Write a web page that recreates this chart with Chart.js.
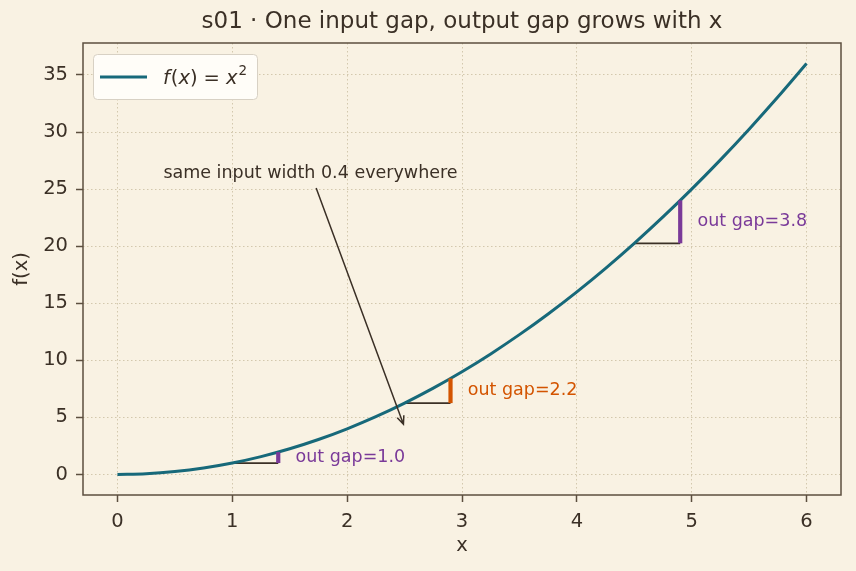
<!DOCTYPE html>
<html>
<head>
<meta charset="utf-8">
<script src="https://cdn.jsdelivr.net/npm/chart.js@4/dist/chart.umd.min.js"></script>
<style>
  html, body { margin: 0; padding: 0; background: #f9f2e3; }
  #wrap { width: 856px; height: 571px; }
</style>
</head>
<body>
<div id="wrap"><canvas id="c" width="856" height="571"></canvas></div>
<script>
// curve samples of f(x) = x^2
const curveX = [0, 0.25, 0.5, 0.75, 1, 1.25, 1.5, 1.75, 2, 2.25, 2.5, 2.75, 3, 3.25, 3.5, 3.75, 4, 4.25, 4.5, 4.75, 5, 5.25, 5.5, 5.75, 6];
const curveY = [0, 0.0625, 0.25, 0.5625, 1, 1.5625, 2.25, 3.0625, 4, 5.0625, 6.25, 7.5625, 9, 10.5625, 12.25, 14.0625, 16, 18.0625, 20.25, 22.5625, 25, 27.5625, 30.25, 33.0625, 36];

// the three input gaps (width 0.4) and their output gaps
const gapStart = [1, 2.5, 4.5];
const gapEnd = [1.4, 2.9, 4.9];
const gapLow = [1, 6.25, 20.25];
const gapHigh = [1.96, 8.41, 24.01];
const gapLabels = ["out gap=1.0", "out gap=2.2", "out gap=3.8"];
const gapColors = ["#7a3a99", "#d35400", "#7a3a99"];

const xTicks = [0, 1, 2, 3, 4, 5, 6];
const yTicks = [0, 5, 10, 15, 20, 25, 30, 35];

const INK = "#3b3026";
const SPINE = "#5c4f3f";
const GRID = "#d3c8ad";
const TEAL = "#17697a";
const FONT = "'DejaVu Sans', sans-serif";

const datasets = [];
datasets.push({
    label: "curve",
    data: curveX.map((x, i) => ({ x: x, y: curveY[i] })),
    borderColor: TEAL,
    borderWidth: 3,
    pointRadius: 0,
    cubicInterpolationMode: "monotone",
    order: 2,
});
gapStart.forEach((x0, i) => {
    datasets.push({
        label: "in" + i,
        data: [{ x: x0, y: gapLow[i] }, { x: gapEnd[i], y: gapLow[i] }],
        borderColor: INK,
        borderWidth: 1.8,
        pointRadius: 0,
        order: 3,
    });
    datasets.push({
        label: "out" + i,
        data: [{ x: gapEnd[i], y: gapLow[i] }, { x: gapEnd[i], y: gapHigh[i] }],
        borderColor: gapColors[i],
        borderWidth: 4.2,
        borderCapStyle: "butt",
        pointRadius: 0,
        order: 1,
    });
});

const decor = {
    id: "decor",
    beforeDraw(chart) {
        const ctx = chart.ctx;
        ctx.save();
        ctx.fillStyle = "#f9f2e3";
        ctx.fillRect(0, 0, chart.width, chart.height);
        ctx.restore();
    },
    afterDraw(chart) {
        const ctx = chart.ctx;
        const xs = chart.scales.x, ys = chart.scales.y;
        const a = chart.chartArea;
        ctx.save();

        // frame
        ctx.strokeStyle = SPINE;
        ctx.lineWidth = 1.5;
        ctx.strokeRect(a.left, a.top, a.right - a.left, a.bottom - a.top);

        // title and axis labels
        ctx.fillStyle = INK;
        ctx.textAlign = "center";
        ctx.textBaseline = "middle";
        ctx.font = "23px " + FONT;
        ctx.fillText("s01 \u00b7 One input gap, output gap grows with x", (a.left + a.right) / 2, 22);
        ctx.font = "19.5px " + FONT;
        ctx.fillText("x", (a.left + a.right) / 2, 546);
        ctx.save();
        ctx.translate(22, (a.top + a.bottom) / 2);
        ctx.rotate(-Math.PI / 2);
        ctx.fillText("f(x)", 0, 0);
        ctx.restore();

        // gap labels
        ctx.font = "17.5px " + FONT;
        ctx.textAlign = "left";
        gapStart.forEach((x0, i) => {
            ctx.fillStyle = gapColors[i];
            ctx.fillText(gapLabels[i], xs.getPixelForValue(gapEnd[i] + 0.15), ys.getPixelForValue((gapLow[i] + gapHigh[i]) / 2));
        });

        // annotation
        ctx.fillStyle = INK;
        ctx.fillText("same input width 0.4 everywhere", xs.getPixelForValue(0.4), ys.getPixelForValue(26.4));
        const x1 = xs.getPixelForValue(1.73), y1 = ys.getPixelForValue(25.1);
        const x2 = xs.getPixelForValue(2.49), y2 = ys.getPixelForValue(4.4);
        ctx.strokeStyle = INK;
        ctx.lineWidth = 1.5;
        ctx.beginPath();
        ctx.moveTo(x1, y1);
        ctx.lineTo(x2, y2);
        const ang = Math.atan2(y2 - y1, x2 - x1);
        const hl = 9;
        ctx.moveTo(x2 - hl * Math.cos(ang - 0.4), y2 - hl * Math.sin(ang - 0.4));
        ctx.lineTo(x2, y2);
        ctx.lineTo(x2 - hl * Math.cos(ang + 0.4), y2 - hl * Math.sin(ang + 0.4));
        ctx.stroke();

        // legend
        const lx = 93, ly = 54, lw = 164, lh = 45;
        ctx.fillStyle = "#fffdf8";
        ctx.strokeStyle = "#d8d1c4";
        ctx.lineWidth = 1;
        ctx.beginPath();
        ctx.roundRect(lx + 0.5, ly + 0.5, lw, lh, 4);
        ctx.fill();
        ctx.stroke();
        ctx.strokeStyle = TEAL;
        ctx.lineWidth = 3;
        ctx.beginPath();
        ctx.moveTo(100, 77);
        ctx.lineTo(147, 77);
        ctx.stroke();
        // mathtext f(x) = x^2
        ctx.fillStyle = INK;
        ctx.textBaseline = "alphabetic";
        const parts = [
            ["italic 19.5px ", "f", 0, 0],
            ["19.5px ", "(", 1, 0],
            ["italic 19.5px ", "x", 0, 0],
            ["19.5px ", ")", 0, 0],
            ["19.5px ", "=", 6, 0],
            ["italic 19.5px ", "x", 6, 0],
            ["13.5px ", "2", 1, -9],
        ];
        let px = 163;
        parts.forEach(p => {
            ctx.font = p[0] + FONT;
            px += p[2];
            ctx.fillText(p[1], px, 84 + p[3]);
            px += ctx.measureText(p[1]).width;
        });
        ctx.restore();
    }
};

const tickStyle = { color: INK, font: { family: FONT, size: 19.5 }, padding: 8 };

new Chart(document.getElementById("c"), {
    type: "line",
    data: { datasets: datasets },
    options: {
        responsive: false,
        devicePixelRatio: 1,
        animation: false,
        layout: { padding: { top: 43, right: 15, left: 0, bottom: 0 } },
        plugins: { legend: { display: false }, tooltip: { enabled: false }, title: { display: false } },
        scales: {
            x: {
                type: "linear",
                min: -0.3,
                max: 6.3,
                afterBuildTicks: (s) => { s.ticks = xTicks.map(v => ({ value: v })); },
                afterFit: (s) => { s.height = 76; },
                ticks: tickStyle,
                grid: { color: GRID, lineWidth: 1, tickColor: SPINE, tickLength: 7, tickWidth: 1.5 },
                border: { display: false, dash: [1.5, 2.5] },
            },
            y: {
                type: "linear",
                min: -1.8,
                max: 37.8,
                afterBuildTicks: (s) => { s.ticks = yTicks.map(v => ({ value: v })); },
                afterFit: (s) => { s.width = 83; },
                ticks: tickStyle,
                grid: { color: GRID, lineWidth: 1, tickColor: SPINE, tickLength: 7, tickWidth: 1.5 },
                border: { display: false, dash: [1.5, 2.5] },
            },
        },
    },
    plugins: [decor],
});
</script>
</body>
</html>
